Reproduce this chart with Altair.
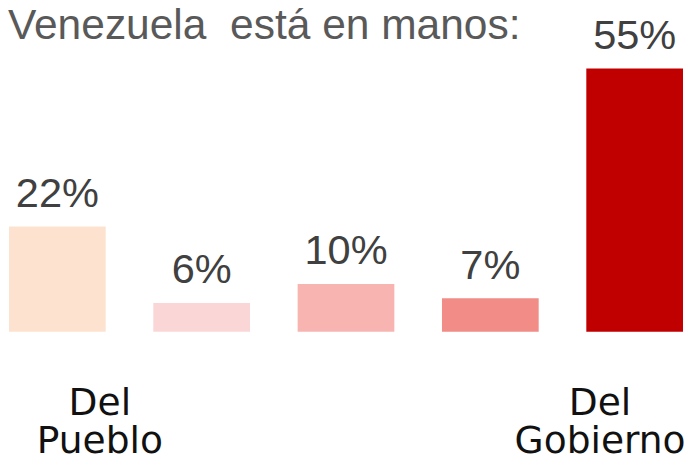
import altair as alt
import pandas as pd

categories = ["A", "B", "C", "D", "E"]
values = [22, 6, 10, 7, 55]
labels = ["22%", "6%", "10%", "7%", "55%"]
colors = ["#FDE3CF", "#FAD7D6", "#F7B4B0", "#F28C86", "#C00000"]
title_text = ["Venezuela\u00a0 está en manos:"]
end_labels = ["Del\nPueblo", "Del\nGobierno"]

df = pd.DataFrame({"cat": categories, "value": values, "label": labels, "color": colors})

x_scale = alt.Scale(domain=categories, range=[1, 683], paddingInner=0.33, paddingOuter=0)
y_scale = alt.Scale(domain=[0, 55], range=[325, 58.5])

base = alt.Chart(df)

bars = base.mark_bar().encode(
    x=alt.X("cat:N", scale=x_scale, axis=None),
    y=alt.Y("value:Q", scale=y_scale, axis=None),
    color=alt.Color("color:N", scale=None),
)

vals = base.mark_text(
    font="Liberation Sans", fontSize=42, color="#404040", baseline="alphabetic", dy=-20
).encode(
    x=alt.X("cat:N", scale=x_scale, axis=None),
    y=alt.Y("value:Q", scale=y_scale, axis=None),
    text="label:N",
)

left_lab = alt.Chart(pd.DataFrame({"cat": [categories[0]], "t": [end_labels[0]]})).mark_text(
    font="DejaVu Sans", fontSize=38, color="#111111", baseline="alphabetic",
    lineBreak="\n", lineHeight=39, dx=43, dy=84
).encode(
    x=alt.X("cat:N", scale=x_scale, axis=None),
    y=alt.datum(0, scale=y_scale),
    text="t:N",
)

right_lab = alt.Chart(pd.DataFrame({"cat": [categories[-1]], "t": [end_labels[1]]})).mark_text(
    font="DejaVu Sans", fontSize=38, color="#111111", baseline="alphabetic",
    lineBreak="\n", lineHeight=39, dx=-35, dy=84
).encode(
    x=alt.X("cat:N", scale=x_scale, axis=None),
    y=alt.datum(0, scale=y_scale),
    text="t:N",
)

title = alt.Chart(pd.DataFrame({"t": title_text})).mark_text(
    font="Liberation Sans", fontSize=43, color="#595959", baseline="alphabetic", align="left"
).encode(
    x=alt.value(0),
    y=alt.value(29),
    text="t:N",
)

chart = alt.layer(bars, vals, left_lab, right_lab, title).properties(
    width=684, height=450,
    autosize=alt.AutoSizeParams(type="none"),
    padding=0,
).configure_view(stroke=None)

chart.save("out.html", embed_options={"renderer": "svg", "actions": False})
